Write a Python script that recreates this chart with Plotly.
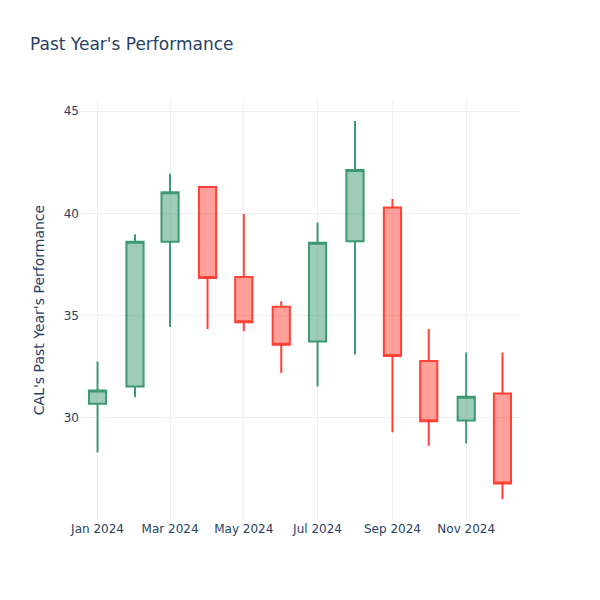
import plotly.graph_objects as go

dates = ["2024-01-01", "2024-02-01", "2024-03-01", "2024-04-01", "2024-05-01", "2024-06-01",
         "2024-07-01", "2024-08-01", "2024-09-01", "2024-10-01", "2024-11-01", "2024-12-01"]
open_ = [30.69, 31.53, 38.61, 41.29, 36.89, 35.44, 33.74, 38.64, 40.29, 32.78, 29.87, 31.19]
high = [32.76, 38.98, 41.94, 41.29, 39.97, 35.70, 39.56, 44.52, 40.70, 34.34, 33.20, 33.19]
low = [28.31, 31.01, 34.44, 34.34, 34.23, 32.19, 31.53, 33.10, 29.29, 28.63, 28.75, 26.03]
close = [31.34, 38.61, 41.03, 36.84, 34.67, 33.58, 38.56, 42.12, 33.02, 29.83, 31.03, 26.79]

fig = go.Figure(go.Candlestick(x=dates, open=open_, high=high, low=low, close=close))
fig.update_layout(
    title="Past Year's Performance",
    yaxis_title="CAL's Past Year's Performance",
    xaxis_rangeslider_visible=False,
    width=600, height=600,
    template="plotly_white",
    font=dict(family="DejaVu Sans"),
)
fig.write_html("out.html", config={"displayModeBar": False},
               post_script="document.body.style.margin='0';")
